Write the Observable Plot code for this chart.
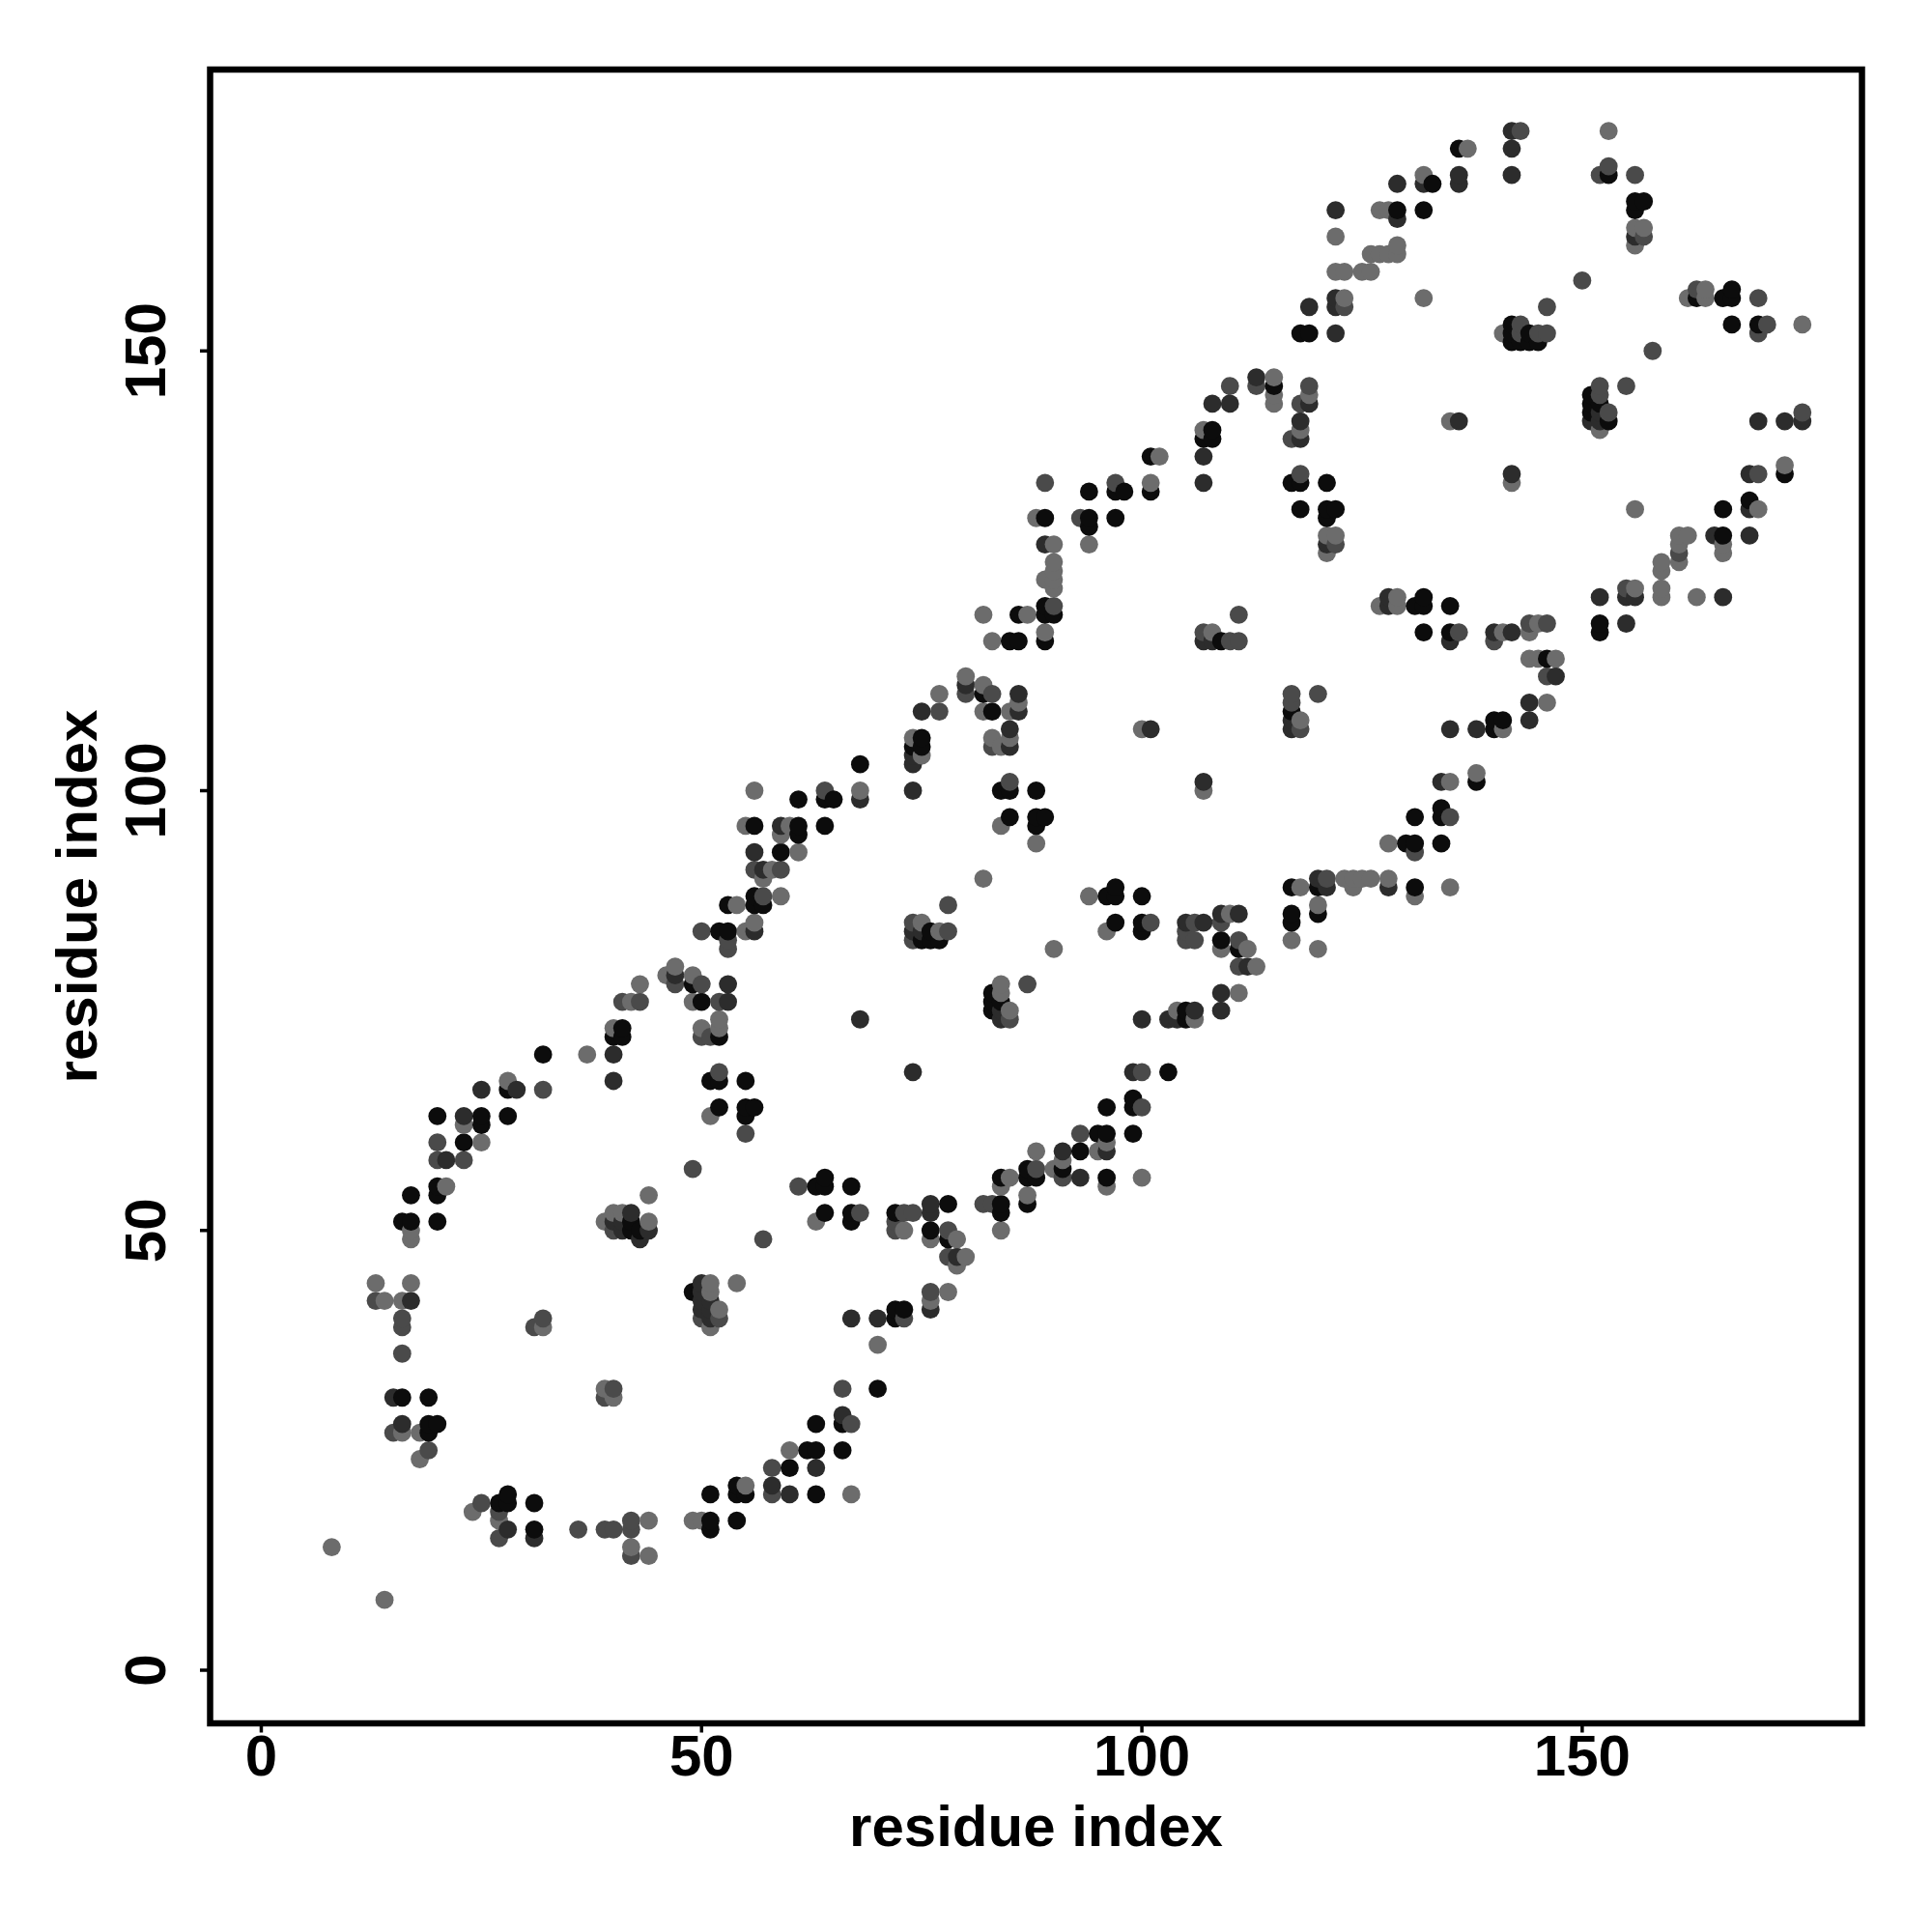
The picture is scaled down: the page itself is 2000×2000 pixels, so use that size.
<!DOCTYPE html>
<html>
<head>
<meta charset="utf-8">
<script src="https://cdn.jsdelivr.net/npm/d3@7"></script>
<script src="https://cdn.jsdelivr.net/npm/@observablehq/plot@0.6"></script>
<style>html,body{margin:0;padding:0;background:#fff}svg{display:block}</style>
</head>
<body>
<div id="chart"></div>
<script>
// Each entry: [residue on x, [residues on y]]; one list per grey level of the reference.
const shadeBlack = [[16,[31,51]],[17,[51,54]],[19,[27,28,31]],[20,[28,51,54,55,63]],[23,[60]],[25,[62,63]],[27,[19]],[28,[19,20,63,66]],[31,[16,19]],[32,[70]],[40,[72]],[41,[72,73]],[42,[50,51]],[43,[50]],[49,[43,78]],[50,[76]],[51,[16,17,20,67]],[52,[64,67,72,84]],[53,[84,87]],[54,[17,20,21]],[55,[20,63,64,67]],[56,[64,87,88,96]],[57,[87]],[59,[93]],[60,[23]],[61,[95,96,99]],[62,[25]],[63,[20,25,28,55]],[64,[52,55,56,96,99]],[65,[99]],[66,[25,28]],[67,[51,52,55]],[68,[103]],[70,[32]],[72,[40,41,52]],[73,[41]],[74,[105]],[75,[83,105,106]],[76,[50,83,84]],[77,[83]],[78,[49,53]],[82,[111]],[83,[75,76,77,109]],[84,[52,53,56,76,100]],[85,[97,100,117]],[86,[117,120]],[87,[53,56,57]],[88,[56,96,97,100]],[89,[97,117,120,121,131]],[90,[120]],[91,[57]],[93,[59]],[94,[130,131,134]],[95,[61]],[96,[56,61,64,88]],[97,[85,88,89,131,134]],[98,[134]],[99,[61,64,65]],[100,[84,85,88]],[101,[134,138]],[103,[68]],[105,[74,75]],[107,[140]],[108,[140,141]],[109,[83,117]],[111,[82]],[115,[146]],[117,[85,86,89,109,135]],[118,[132,135,152]],[119,[152]],[120,[86,89]],[121,[131,132,135]],[122,[132]],[129,[166]],[130,[94]],[131,[89,94,97,121]],[132,[118,121,122,166]],[133,[169]],[134,[94,97,98]],[135,[118,121]],[136,[173]],[138,[101]],[140,[107,108]],[141,[108]],[142,[151,152,153]],[143,[151]],[144,[151,152]],[145,[151]],[146,[115]],[151,[143,144,145]],[152,[118,119,144]],[153,[142,170]],[156,[166,167]],[157,[167]],[163,[156]],[166,[129,132,156]],[167,[153,156,157]],[169,[133]],[170,[153]],[173,[136]]];

const shadeDark = [[15,[31]],[16,[28]],[17,[42]],[21,[58]],[23,[63]],[25,[66]],[28,[16]],[29,[66]],[31,[15]],[40,[51,67,70]],[41,[50,51]],[42,[52]],[43,[49]],[44,[50]],[47,[79]],[50,[41,42,43,44]],[51,[40,41,42]],[53,[76,78]],[56,[84,93]],[57,[91]],[58,[21]],[59,[96]],[60,[20]],[63,[23]],[66,[29]],[67,[40]],[68,[74,99]],[70,[40]],[74,[68,84,100,103,104]],[75,[84,109]],[76,[41,52,53]],[79,[47]],[80,[112]],[84,[74,75]],[85,[105,107]],[86,[109,111]],[89,[128]],[91,[59]],[93,[56]],[96,[59]],[99,[68]],[100,[74]],[101,[107]],[103,[74]],[104,[74]],[105,[85]],[106,[75]],[107,[85,101,117,135,138]],[108,[117,144]],[109,[75,77,86]],[110,[144]],[111,[86]],[112,[80]],[113,[147]],[117,[107,108]],[118,[140,142]],[119,[144,155]],[120,[90]],[121,[89,128]],[122,[152,155,156,166]],[128,[89,121,122]],[129,[165,169]],[132,[169]],[134,[101]],[135,[107,117]],[136,[142,169,170]],[138,[107]],[140,[118]],[142,[118,136,170,173,175]],[144,[108,110]],[147,[113]],[151,[142]],[152,[122,142,143]],[155,[119,122]],[156,[122,163]],[165,[129]],[166,[122]],[169,[129,132,136]],[170,[142]],[173,[142]],[175,[142]]];

const shadeMid = [[13,[42]],[15,[27]],[16,[36,39,40]],[19,[25]],[20,[58,60]],[23,[58]],[25,[19]],[27,[15,18]],[31,[39]],[32,[40,66]],[36,[16]],[39,[16,31]],[40,[16,32,50]],[41,[76]],[42,[13,16,17]],[43,[76]],[47,[78]],[49,[57]],[50,[40,72,78,84]],[51,[72]],[52,[40,68,76]],[53,[82,83]],[55,[61]],[56,[91]],[57,[49,88]],[58,[20,23]],[59,[91]],[61,[55]],[64,[100]],[66,[32]],[67,[28]],[68,[52]],[72,[50,51]],[73,[40,52]],[74,[52,83,85]],[76,[43]],[77,[109]],[78,[47,50,84,87]],[80,[111]],[82,[53]],[83,[53,105,111]],[85,[74,101]],[87,[78]],[88,[57]],[89,[135]],[90,[121]],[91,[56]],[93,[61,131]],[97,[135]],[100,[64,68]],[101,[85]],[105,[83,84]],[106,[83,85]],[107,[118]],[109,[85]],[110,[117,146]],[111,[80,83,117,120]],[113,[146]],[117,[110,111,140]],[118,[107,136,144]],[119,[146]],[120,[111]],[121,[90]],[122,[128]],[123,[155]],[131,[93]],[135,[97]],[136,[118]],[140,[117]],[143,[152,153,175]],[144,[119]],[145,[152]],[146,[113,119,152,155]],[150,[158]],[152,[145,146,170]],[153,[143,171]],[155,[123,146]],[156,[170]],[157,[163]],[158,[150]],[161,[127]],[163,[157]],[170,[136,152,156]],[171,[153]],[175,[143]]];

const shadeLight = [[8,[14]],[13,[44]],[14,[8,42]],[16,[27,42]],[17,[44,49,50]],[18,[24,27]],[21,[55]],[23,[62]],[24,[18]],[25,[60]],[27,[17]],[28,[67]],[32,[39]],[37,[70]],[39,[32,51]],[40,[31,52,73]],[41,[52]],[42,[14,76]],[43,[78]],[44,[13,17,51,54]],[46,[79]],[47,[80]],[49,[17,76,79]],[50,[17,73]],[51,[39,43,44,63]],[52,[41,73,74]],[54,[44,87]],[55,[21,84,96]],[56,[85,100]],[57,[90]],[58,[91]],[59,[88,95]],[60,[25,96]],[61,[93]],[63,[51]],[67,[20]],[68,[100]],[70,[37]],[73,[50]],[74,[106]],[75,[85,104]],[76,[42,49]],[77,[84,111]],[78,[43]],[79,[46,49]],[80,[47,113]],[82,[90,109,112,120]],[83,[106,117]],[84,[50,55,77,78,96,105]],[85,[56,75,106,109]],[86,[110]],[87,[54,120]],[88,[59,94,131]],[89,[118,124]],[90,[57,82,123,124,125,126,128]],[91,[58]],[94,[88,128]],[95,[59]],[96,[55,60,84]],[100,[56,107]],[101,[135]],[102,[138]],[104,[75]],[106,[74]],[107,[100,141]],[108,[118]],[109,[82]],[110,[86]],[111,[77]],[112,[82]],[113,[80]],[115,[144,145,147]],[117,[83]],[118,[89,108,141]],[119,[145]],[120,[82,87]],[121,[127,129]],[122,[129,159,163]],[123,[90,156,159]],[124,[89,90]],[125,[90,159]],[126,[90,159,161]],[127,[121,161,166]],[128,[90,94,161,166]],[129,[121,122,161,162]],[131,[88]],[132,[156,170]],[135,[89,101,142]],[137,[173]],[138,[102]],[141,[107,118,152]],[142,[135]],[144,[115,118]],[145,[115,119]],[146,[110]],[147,[115]],[152,[141]],[153,[175]],[156,[123,132,162,164]],[157,[164]],[159,[122,123,125,126]],[161,[126,128,129]],[162,[129,156]],[163,[122]],[164,[156,157]],[166,[127,128]],[170,[132]],[173,[137]],[175,[153]]];

const shadeNames = ["black", "dark", "mid", "light"];
const shadeColors = ["#0c0c0c", "#2c2c2c", "#4a4a4a", "#6c6c6c"];
const tickValues = [0, 50, 100, 150];
const axisLabel = "residue index";
const fontFamily = "'Liberation Sans', Arial, sans-serif";

const shadeLists = [shadeBlack, shadeDark, shadeMid, shadeLight];
const seen = new Set();
const contacts = [];
shadeLists.forEach((list, s) => {
  for (const [i, js] of list) for (const j of js) {
    const key = i + "," + j;
    if (!seen.has(key)) { seen.add(key); contacts.push({i, j, shade: shadeNames[s]}); }
  }
});
// Points paint left to right, and bottom to top inside a column, as in the reference.
contacts.sort((a, b) => a.i - b.i || a.j - b.j);

const plot = Plot.plot({
  width: 2000,
  height: 2000,
  marginLeft: 217,
  marginRight: 73,
  marginTop: 71.5,
  marginBottom: 216.5,
  style: {background: "#fff", fontFamily},
  x: {domain: [-5.81, 181.77], label: null},
  y: {domain: [-6.04, 181.99], label: null},
  color: {domain: shadeNames, range: shadeColors},
  marks: [
    Plot.dot(contacts, {x: "i", y: "j", r: 9.4, fill: "shade", stroke: "none"}),
    Plot.frame({stroke: "#000", strokeWidth: 6.5}),
    Plot.axisX({anchor: "bottom", ticks: tickValues, tickFormat: d => d, tickSize: 10, tickPadding: 1, strokeWidth: 3.5, stroke: "#000", fill: "#000", fontSize: 60, fontWeight: 700, label: null}),
    Plot.axisY({anchor: "left", ticks: tickValues, tickFormat: d => d, tickSize: 10, tickPadding: 37, strokeWidth: 3.5, stroke: "#000", fill: "#000", fontSize: 60, fontWeight: 700, tickRotate: -90, textAnchor: "middle", label: null}),
    Plot.text([axisLabel], {frameAnchor: "bottom", dy: 127, fontSize: 60, fontWeight: 700, fill: "#000"}),
    Plot.text([axisLabel], {frameAnchor: "left", dx: -137, rotate: -90, textAnchor: "middle", fontSize: 60, fontWeight: 700, fill: "#000"})
  ]
});
document.getElementById("chart").appendChild(plot);
</script>
</body>
</html>
